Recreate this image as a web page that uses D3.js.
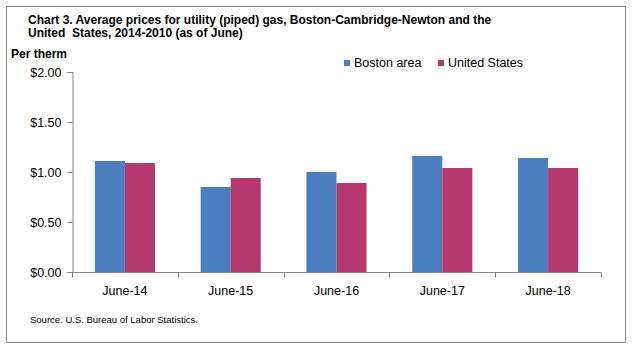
<!DOCTYPE html>
<html>
<head>
<meta charset="utf-8">
<script src="https://cdn.jsdelivr.net/npm/d3@7"></script>
<style>
  body { margin: 0; background: #fff; }
  svg { font-family: "Liberation Sans", Arial, sans-serif; }
</style>
</head>
<body>
<script>
var width = 641, height = 348;

var categories = ["June-14", "June-15", "June-16", "June-17", "June-18"];
var series = ["Boston area", "United States"];
var bostonValues = [1.11, 0.85, 1.00, 1.16, 1.14];
var usValues = [1.09, 0.94, 0.89, 1.04, 1.04];
var yTicks = [0, 0.5, 1.0, 1.5, 2.0];
var colors = ["#4a7ebf", "#b5386f"];

var svg = d3.select("body").append("svg")
  .attr("width", width)
  .attr("height", height);

// outer frame
svg.append("rect")
  .attr("x", 6.5).attr("y", 6.5)
  .attr("width", 619).attr("height", 336)
  .attr("fill", "none")
  .attr("stroke", "#8a8a8a");

// title
svg.append("text")
  .attr("x", 28).attr("y", 24)
  .attr("font-size", 12).attr("font-weight", "bold")
  .text("Chart 3. Average prices for utility (piped) gas, Boston-Cambridge-Newton and the");
svg.append("text")
  .attr("x", 28).attr("y", 37)
  .attr("font-size", 12).attr("font-weight", "bold")
  .style("white-space", "pre")
  .text("United  States, 2014-2010 (as of June)");

svg.append("text")
  .attr("x", 11).attr("y", 58)
  .attr("font-size", 12).attr("font-weight", "bold")
  .text("Per therm");

var x = d3.scaleBand()
  .domain(categories)
  .range([72, 601]);

var x1 = d3.scaleBand()
  .domain(series)
  .range([0, x.bandwidth()])
  .paddingOuter(0.76);

var y = d3.scaleLinear()
  .domain([0, 2])
  .range([272, 72]);

var data = categories.map(function(c, i) {
  return { cat: c, vals: [bostonValues[i], usValues[i]] };
});

var groups = svg.append("g").selectAll("g")
  .data(data)
  .enter().append("g")
  .attr("transform", function(d) { return "translate(" + x(d.cat) + ",0)"; });

groups.selectAll("rect")
  .data(function(d) { return d.vals.map(function(v, j) { return { s: series[j], v: v, j: j }; }); })
  .enter().append("rect")
  .attr("x", function(d) { return x1(d.s); })
  .attr("y", function(d) { return y(d.v); })
  .attr("width", x1.bandwidth())
  .attr("height", function(d) { return y(0) - y(d.v); })
  .attr("fill", function(d) { return colors[d.j]; });

// y axis
var yAxis = svg.append("g")
  .attr("transform", "translate(72.5,0)")
  .call(d3.axisLeft(y).tickValues(yTicks).tickSize(5).tickPadding(6)
    .tickFormat(function(d) { return "$" + d3.format(".2f")(d); }));
yAxis.selectAll("path, line").attr("stroke", "#868686");
yAxis.selectAll("text").attr("fill", "#000")
  .attr("font-family", "'Liberation Sans', Arial, sans-serif").attr("font-size", 12.5);

// x axis
var xAxis = svg.append("g")
  .attr("transform", "translate(0,272.5)");
xAxis.append("line")
  .attr("x1", 72).attr("x2", 601)
  .attr("stroke", "#868686");
xAxis.selectAll("line.tick")
  .data(categories.concat(["end"]))
  .enter().append("line")
  .attr("class", "tick")
  .attr("x1", function(d, i) { return Math.round(x.range()[0] + i * x.step()) + 0.5; })
  .attr("x2", function(d, i) { return Math.round(x.range()[0] + i * x.step()) + 0.5; })
  .attr("y1", 0).attr("y2", 5)
  .attr("stroke", "#868686");
xAxis.selectAll("text")
  .data(categories)
  .enter().append("text")
  .attr("x", function(d) { return x(d) + x.bandwidth() / 2; })
  .attr("y", 22.5)
  .attr("text-anchor", "middle")
  .attr("font-size", 12.5)
  .text(function(d) { return d; });

// legend
var legend = svg.append("g").selectAll("g")
  .data(series)
  .enter().append("g")
  .attr("transform", function(d, i) { return "translate(" + [344, 438][i] + ",60)"; });
legend.append("rect")
  .attr("width", 6).attr("height", 6)
  .attr("fill", function(d, i) { return colors[i]; });
legend.append("text")
  .attr("x", 10).attr("y", 6.5)
  .attr("font-size", 12.5)
  .text(function(d) { return d; });

svg.append("text")
  .attr("x", 30).attr("y", 323)
  .attr("font-size", 9.5)
  .text("Source. U.S. Bureau of Labor Statistics.");
</script>
</body>
</html>
